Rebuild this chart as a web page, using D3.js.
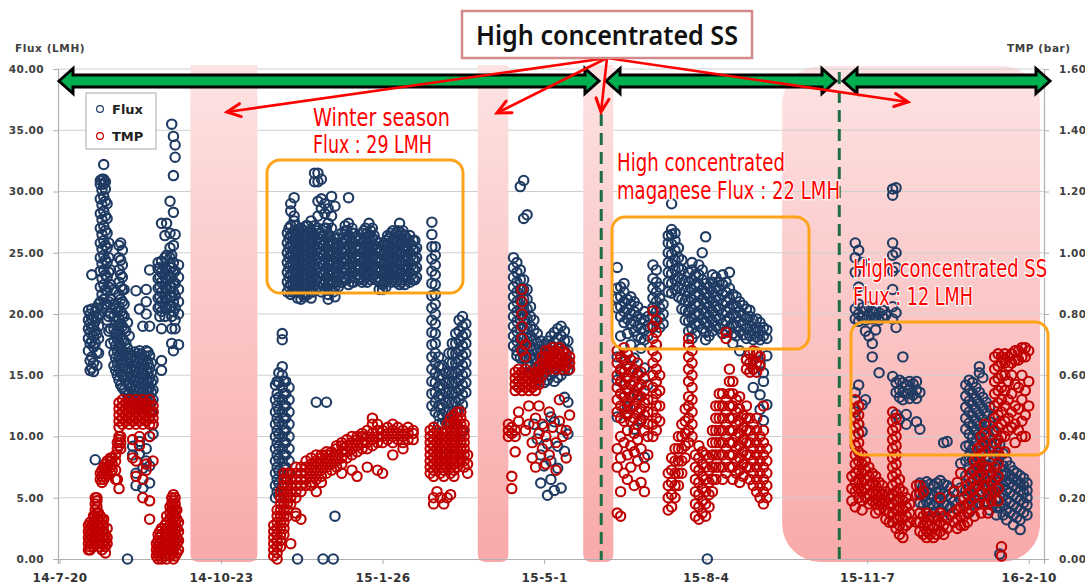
<!DOCTYPE html>
<html>
<head>
<meta charset="utf-8">
<script src="https://cdn.jsdelivr.net/npm/d3@7"></script>
<style>
body { margin: 0; background: #fff; }
svg { display: block; }
</style>
</head>
<body>
<svg width="1085" height="585"></svg>
<script>
// days are counted from 2014-07-20
const startDay = Date.UTC(2014, 6, 20);
const tickDays = [0, 95, 190, 285, 380, 475, 570];
const fluxTicks = [0, 5, 10, 15, 20, 25, 30, 35, 40];
const tmpTicks = [0, 0.2, 0.4, 0.6, 0.8, 1.0, 1.2, 1.4, 1.6];
const shadedDays = [[77, 116.4], [246, 264], [308, 325.7]];
const wideShadeDays = [425, 576.7];
const dashDays = [318.6, 458.6];

// [day, flux values (LMH)...]
const fluxCols = [
  [17,19.5,20.3,18.8,18,17],[18,20,19.2,18.5,17.6,16.2,15.4],[19,20.4,19.6,18.9,17.8,16.5,15.6,23.2],
  [20,19.8,19,18.2,17.3,16,15.3],[21,20.2,19.4,18.6,17.6,8.1],[22,20.5,19.7,18.4,16.9,15.8],[23,20.8,19.9,19,18,16.8],
  [24,21,22.2,23.5,24.6,25.8,27,28.2,29.4,30.6,30.9,20],[25,20.5,21.6,22.9,24.1,25.3,26.5,27.7,28.9,30.1,31],
  [26,21.2,22.4,23.6,24.8,26,27.2,28.4,29.6,30.6,31,32.2],[27,20.8,22,23.2,24.4,25.6,26.8,28,29.2,30.2,30.8],
  [28,19.5,20.8,21.9,23,24.2,25.4,26.6,27.8,29],[29,18.6,19.8,21,22.2,23.4,24.6,25.8],[30,17.6,18.8,20,21.2,22.4,23.6],
  [32,15.8,16.8,17.8,18.8,19.8,20.8,22],[33,15.4,16.4,17.4,18.4,19.4,20.4],[34,15,16,17,18,19,20.2],
  [35,14.6,15.6,16.6,17.6,18.6,19.6,20.6,21.6,22.6,23.6,24.6,25.6],[36,14.2,15.2,16.2,17.2,18.2,19.2,20.2,21.2,22.2,23.2,24.4,25.8],
  [37,14,15,16,17,18,19,20,21,22,23,24,25.2],[38,13.8,14.8,15.8,16.8,17.8,18.8,19.8,20.8,22],[39,13.6,14.6,15.6,16.6,17.6,18.6],
  [40,13.4,14.4,15.4,16.4,17.2,19.3,0],[41,12.8,13.6,14.4,15.2,16,16.8,18.2],[42,12.4,13.2,14,14.8,15.6,16.4],
  [43,12.6,13.4,14.2,15,15.8,16.6,8.5,9.2],[44,12.9,13.7,14.5,15.3,16.1,16.9],[45,12.5,13.3,14.1,14.9,15.7,16.5,21.9,7,6],
  [46,12.8,13.6,14.4,15.2,16,16.8],[47,12.4,13.2,14,14.8,15.6,16.4,17,20.4,8.6,9.6],[48,12.7,13.5,14.3,15.1,15.9,16.7],
  [49,12.3,13.1,13.9,14.7,15.5,16.3,19,5.8,7.4],[50,12.6,13.4,14.2,15,15.8,16.6],[51,12.2,13,13.8,14.6,15.4,16.2,17,22,20,21,8,9],
  [52,12.8,13.6,14.4,15.2,16,16.9],[53,12.4,13.2,14,14.8,15.6,16.6,23.6,19,6.2,7.6,10],[54,12,12.8,13.6,14.4,15.2,16],
  [55,11,12,13,13.8,14.6,10.2],
  [58,20.5,21.3,22.1,22.9,23.7,24.2],[59,19.8,20.6,21.4,22.2,23,23.8],[60,20.2,21,21.8,22.6,23.4,24.3,18.8,16.2,15.4,27.4],
  [62,19.8,20.6,21.4,22.2,23,23.8,24.6,26.4],[63,20.4,21.2,22,22.8,23.6,24.8,27.4],[65,20.6,21.4,22.2,23,23.8,24.6,25.4,26.6,29.2],
  [66,19.8,20.6,21.4,22.2,23,23.8,24.8,35.5,18.8,17.6],[67,20.2,21,21.8,22.6,23.4,24.2,25.6,34.5,31.3,28.3,17],
  [68,19.5,20.5,21.5,22.5,23.5,26.5,33.8,32.8,18.8],[70,20,21,22,23,24,17.5],
  [127,5,6,7,8,9,10,11,12,13,14.2],[128,5.5,6.5,7.5,8.5,9.5,10.5,11.5,12.5,13.5,14.5],
  [129,5.2,6.2,7.2,8.2,9.2,10.2,11.2,12.2,13.2,14.4,15.2],[131,6,7,8,9,10,11,12,13,14,15,15.7,17.9,18.4],
  [132,5.5,6.5,7.5,8.5,9.5,10.5,11.5,12.5,13.5,14.5],[133,6.5,7.5,8.5,9.5,10.5,11.5,12.5,13.5,14.5],[135,7,8,9,10,11,12,13,14],
  [134,21.8,22.6,23.4,24.2,25,25.8,26.6],[135,22.2,23,23.8,24.6,25.4,26.2,27],[136,21.6,22.4,23.2,24,24.8,25.6,26.4,27.2,29,28.4],
  [137,21.8,22.6,23.4,24.2,25,25.8,26.6],[138,22,22.8,23.6,24.4,25.2,26,26.8,27.6,29.5,28],[139,22.4,23.2,24,24.8,25.6,26.4,27.2],
  [140,21.8,22.6,23.4,24.2,25,25.8,26.6,21.3,0],[141,22,22.8,23.6,24.4,25.2,26,26.8],
  [142,22.2,23,23.8,24.6,25.4,26.2,27,21.2],[143,21.6,22.4,23.2,24,24.8,25.6,26.4],[144,22,22.8,23.6,24.4,25.2,26,26.8,21.4],
  [145,22.4,23.2,24,24.8,25.6,26.4,27.2],[146,21.6,22.4,23.2,24,24.8,25.6,26.4,27.2],[147,22,22.8,23.6,24.4,25.2,26,26.8],
  [148,22,22.8,23.6,24.4,25.2,26,26.8,27.6,21.3],[149,21.8,22.6,23.4,24.2,25,25.8,26.6],
  [150,22.4,23.2,24,24.8,25.6,26.4,27.2,30.8,31.5],[151,12.8,22,22.8,23.6,24.4,25.2,26,26.8],
  [152,22.2,23,23.8,24.6,25.4,26.2,27,28,29.2,30.8,31.5],[153,22.6,23.4,24.2,25,25.8,26.6],
  [154,21.8,22.6,23.4,24.2,25,25.8,26.6,28.6,29.4,31],[155,0,22.4,23.2,24,24.8,25.6,26.4],
  [156,22,22.8,23.6,24.4,25.2,26,27,28.2,29],[157,12.8,22.2,23,23.8,24.6,25.4,26.2,27],
  [158,21.6,22.4,23.2,24,24.8,25.6,26.4,27.4,28.6,21.2],[159,22.4,23.2,24,24.8,25.6,26.4],
  [160,22,22.8,23.6,24.4,25.2,26,27,28,29.6],[161,0,21.8,22.6,23.4,24.2,25,25.8],
  [162,21.4,22.2,23,23.8,24.6,25.4,26.2,28.8,3.5],[163,22.6,23.4,24.2,25,25.8],[164,22.2,23,23.8,24.6,25.4,26.2],
  [166,22.6,23.4,24.2,25,25.8,26.6],[167,23,23.8,24.6,25.4,26.2],
  [168,22.8,23.6,24.4,25.2,26,26.8,27.2],[169,22.8,23.6,24.4,25.2,26,26.8],[170,22.4,23.2,24,24.8,25.6,26.4,27.4,29.5],
  [171,23,23.8,24.6,25.4,26.2],[172,22.6,23.4,24.2,25,25.8,26.6,27],[173,22.6,23.4,24.2,25,25.8,26.6],
  [174,23,23.8,24.6,25.4,26.2],[175,23.2,24,24.8,25.6],[176,22.8,23.6,24.4,25.2,26],[177,23,23.8,24.6,25.4,26.2],
  [178,22.6,23.4,24.2,25,25.8,26.6],[179,22.8,23.6,24.4,25.2,26,26.8],
  [180,23,23.8,24.6,25.4,26.2,27],[181,22.6,23.4,24.2,25,25.8,26.6],[182,23.2,24,24.8,25.6,26.4,27.4],
  [183,22.8,23.6,24.4,25.2,26,26.8],[184,23,23.8,24.6,25.4,26.2,27],[185,23.2,24,24.8,25.6,26.4],
  [186,22.8,23.6,24.4,25.2,26],[187,23,23.8,24.6,25.4],[188,22.6,23.4,24.2,25,25.8,22],[189,22.8,23.6,24.4,25.2],
  [190,22.4,23.2,24,24.8,25.6,22],[191,22.6,23.4,24.2,25,25.8],
  [192,22.8,23.6,24.4,25.2,26,22.2],[193,23.2,24,24.8,25.6,26.4],[194,23,23.8,24.6,25.4,26.2],
  [195,22.6,23.4,24.2,25,25.8,26.6],[196,22.8,23.6,24.4,25.2,26,26.8],[197,23,23.8,24.6,25.4,26.2],
  [198,22.6,23.4,24.2,25,25.8,26.6],[199,22.8,23.6,24.4,25.2,26,26.8],[200,22.4,23.2,24,24.8,25.6,26.4,27.4],
  [201,22.6,23.4,24.2,25,25.8,26.6],[202,22.8,23.6,24.4,25.2,26,26.8],[203,22.4,23.2,24,24.8,25.6,26.4],
  [204,23,23.8,24.6,25.4,26.2],[205,22.8,23.6,24.4,25.2,26],[206,22.6,23.4,24.2,25,25.8,26.4],[207,23.2,24,24.8,25.6],
  [208,22.8,23.6,24.4,25.2,26],[209,22.8,23.6,24.4,25.2,26],[210,23,23.8,24.6,25.4],
  [219,27.5,26.5,25.5,24.5,23.5,22.5,21.5,20.5,19.5,18.5,17.5,16.5,15.5,14.5,13.5,12.5],
  [221,25.5,24.8,24,23.2,22.4,21.6,20.8,20,19.2,18.4,17.6,16.8,16,15.2,14.4,13.6,12.8,12],
  [223,16.5,15.7,14.9,14.1,13.3,12.5,11.7,11],[225,15.8,15,14.2,13.4,12.6,11.8,11],[227,15.2,14.4,13.6,12.8,12,11.2],
  [229,16.8,16,15.2,14.4,13.6,12.8,12,11.2],[231,17.6,16.8,16,15.2,14.4,13.6,12.8,12,11.4],
  [233,18.4,17.6,16.8,16,15.2,14.4,13.6,12.8,12,11],[235,19.5,18.6,17.8,17,16.2,15.4,14.6,13.8,13,12.2],
  [237,19.8,19,18.2,17.4,16.6,15.8,15,14.2,13.4,12.6,10.4],[239,19.2,18.4,17.6,16.8,16,15.2,14.4,13.6],
  [267,24.6,23.8,23,22.2,21.4,20.6,19.8,19,18.2,17.4],[269,24.2,23.4,22.6,21.8,21,20.2,19.4,18.6,17.8,17,16.6],
  [271,23.6,22.8,22,21.2,20.4,19.6,18.8,18,17.2,16.4,30.4],[273,22.8,22,21.2,20.4,19.6,18.8,18,17.2,16.4,30.9,27.8],
  [275,22,21.2,20.4,19.6,18.8,18,17.2,16.4,15.8,28.1],[277,20.6,19.8,19,18.2,17.4,16.6,15.8,15.2],
  [279,19.5,18.7,17.9,17.1,16.3,15.5,14.8,11],[281,18.4,17.6,16.8,16,15.2,14.6,9.8],[283,17.8,17,16.2,15.4,14.6,8.5,6.2],
  [285,17.5,16.7,15.9,15.1,14.4,10.8,7.6],[287,17.8,17,16.2,15.4,14.6,9.4,5.2],[289,18.2,17.4,16.6,15.8,15,8,6.5,11.6],
  [291,18.5,17.7,16.9,16.1,15.3,14.5,11.2,5.6],[293,18.8,18,17.2,16.4,15.6,14.8,9.2,7.4],[295,19,18.2,17.4,16.6,15.8,15,10.6,5.8],
  [297,18.6,17.8,17,16.2,15.4,8.8,13.2],[299,17.8,17,16.2,15.4,12.8,10.2],
  [328,20.5,21.3,22.1,16.5,14.6,11.6,23.8],[330,19.8,20.6,21.4,22.2,18.2,15.3],[332,20.2,21,21.8,22.5,19.3,16.2,13.2],
  [334,19.6,20.4,21.2,18.4,12.4],[336,19.2,20,20.8,21.4,17.5,14.2],[338,18.6,19.4,20.2,21,16.4,10.6],
  [340,18.2,19,19.8,20.6,15.2,13.4],[342,18,18.8,19.6,17.2,11.4],[344,17.9,18.7,19.5,20.2,8.3,15.6],[346,18.2,19,19.8,14.2],
  [349,18.9,19.7,20.5,21.3,22.1,22.9,24],[351,19.4,20.2,21,21.8,22.6,23.6],[353,18.9,19.7,20.5,21.3,22.2],[355,19.2,20,20.8],
  [358,21.8,22.6,23.4,24.2,25,25.8,26.4],[360,21.7,22.5,23.3,24.1,24.9,25.7,26.5,26.9,29],[362,22,22.8,23.6,24.4,25.2,26,26.6],
  [364,21.4,22.2,23,23.8,24.6,25.4],[366,20.4,21.2,22,22.8,23.6,24.4],[368,19.5,20.3,21.1,21.9,22.7],
  [370,18.6,19.4,20.2,21,21.8,22.6,23.4],[372,18,18.8,19.6,20.4,21.2,22,22.8,23.6,24.2],[374,18.4,19.2,20,20.8,21.6,22.4,23.2],
  [376,19.2,20,20.8,21.6,22.4,23.2,24],[378,18.8,19.6,20.4,21.2,22,22.8,23.6,25],[380,18.5,19.3,20.1,20.9,21.7,22.5,26.3,17.9],
  [381,0],[382,18.2,19,19.8,20.6,21.4,22.2],[384,18.6,19.4,20.2,21,21.8,22.6,23.2],[386,19,19.8,20.6,21.4,22.2,23],
  [388,18.8,19.6,20.4,21.2,22,22.6],[390,18.4,19.2,20,20.8,21.6,22.4,23.2],[392,18.6,19.4,20.2,21,21.8,22.6],
  [394,18.9,19.7,20.5,21.3,22.1,23.4],[396,18.4,19.2,20,20.8,21.6,17.6],[398,18.2,19,19.8,20.6,21.4],[400,18.6,19.4,20.2,21,17],
  [402,18.3,19.1,19.9,20.7],[404,18,18.8,19.6,20.4,16.3],[406,18.2,19,19.8,20.3],[408,17.9,18.7,19.5,15.5,14],
  [410,18.1,18.9,19.6,16.9],[412,17.9,18.7,19.3,16,13.4,12.2],[414,18.2,18.9,15.2,11.3,14.5],[416,18,18.7,16.6,12.6],
  [468,25.8,24.6,23.4,20.4,19.6,13.6,12],[470,25.2,22.2,20.8,20,19.4,14.2,11],[472,24.2,20.5,19.7,12.6,10.4],[474,20.3,19.5,18.6,13],
  [476,20.6,19.8,18.2],[478,20.2,19.6,17.6,16.5],[480,20.4,19.7,18.7],[482,20.1,19.5,15.2],[484,20.3,19.8],[486,19.9],
  [490,25.8,24.8,23.5,22,20.6,19.6,30.2,29.7,14.9],[492,25,23.8,20.1,18.9,14.4,13.6,11.8,30.3],[494,14.6,13.8,13.2,11.4],
  [496,14.4,13.6,13,16.5],[498,14.2,13.5,11,11.8],[500,14.5,13.8,13.1],[502,14.3,13.4],[504,14.5,13.8,13.1,11.2],
  [506,13.6,10.6,6.2,5.4,4.6],[508,6,5.2,4.4],[510,6.3,5.5,4.7,3.9],[512,6.1,5.3,4.5],[514,6,5.2,4.4,3.8],[516,6.2,5.4,4.6],
  [518,6.4,5.6,4.8,4],[520,6.1,5.3,4.5,9.5],[522,6,5.2,4.4,9.6],[524,5.8,5,4.2,3.6],[526,5.5,4.7],[530,7.8,5.8,4.8],
  [533,14.2,13.3,12.4,11.5,10.6,9.2,8,6.8,5.6,4.4],[535,14.6,13.8,12.9,12,11.1,10.2,9.3,8.4,7.5,6.6,5.8,3.8],
  [537,14.4,13.5,12.6,11.7,10.8,9.9,9,8.1,7.2,6.3,5.4,4.5],[539,14,13.1,12.2,11.3,10.4,9.5,8.6,7.7,6.8,5.9,5],
  [541,15.7,15.2,13.6,12.7,11.8,10.9,10,9.1,8.2,7.3,6.4,5.5,4.6],[543,14.8,13.2,12.3,11.4,10.5,9.6,8.7,7.8,6.9,6],
  [545,12.8,11.9,11,10.1,9.2,8.3,7.4,6.5,5.6,4.7],[547,12.4,11.2,10,8.8,7.6,6.4,5.2,4],[549,11.6,10.4,9.2,8,6.8,5.6,4.4],
  [551,10.4,9.4,8.4,7.4,6.6,5.8,5,4.2,3.6],[553,9.4,8.4,7.4,6.6,5.8,5,4.2,0.4],[555,8.6,7.6,6.8,6,5.2,4.4,3.6],
  [557,8,7,6.4,5.6,4.8,4,3.2],[559,7.6,6.8,6.2,5.4,4.6,3.8],[561,7.2,6.6,6,5.2,4.4,3.6,2.8],[563,7,6.4,5.8,5,4.2,3.4],
  [565,6.8,6.2,5.6,4.8,4,3.2,2.4],[567,6.6,6,5.4,4.6,3.8],[569,6.2,5.6,5,4.4,3.6]
];

// [day, TMP values (bar)...]
const tmpCols = [
  [17,0.03,0.05,0.07,0.09,0.11],[18,0.04,0.06,0.08,0.1,0.12,0.03],[19,0.05,0.07,0.09,0.11],[20,0.04,0.06,0.08,0.1,0.12,0.14],
  [21,0.06,0.08,0.1,0.12,0.14,0.16,0.18,0.2],[22,0.07,0.09,0.11,0.13,0.15,0.17,0.19,0.2],[23,0.05,0.07,0.09,0.11,0.13,0.15],
  [24,0.04,0.06,0.08,0.1,0.12,0.14,0.26,0.28],[25,0.03,0.05,0.07,0.09,0.11,0.13,0.25,0.27,0.29],[26,0.05,0.07,0.09,0.11,0.13,0.26,0.28,0.3],
  [27,0.02,0.04,0.06,0.08,0.27,0.29,0.31],[28,0.05,0.07,0.1,0.28,0.3,0.32],[30,0.28,0.3,0.32,0.33],[31,0.29,0.31,0.33],
  [33,0.26,0.29,0.32,0.34],[34,0.36,0.38,0.26],[35,0.37,0.39,0.4,0.23,0.43,0.45,0.47,0.49,0.51],[36,0.36,0.38,0.4],
  [37,0.44,0.46,0.48,0.5,0.52],[39,0.45,0.47,0.49,0.51],[41,0.44,0.46,0.48,0.5,0.52],[43,0.45,0.47,0.49,0.51,0.39,0.33],
  [45,0.44,0.46,0.48,0.5,0.52,0.32,0.27],[47,0.45,0.47,0.49,0.51,0.4,0.37],[49,0.44,0.46,0.48,0.5,0.52,0.2,0.26],
  [51,0.45,0.47,0.49,0.51,0.31,0.29],[53,0.44,0.46,0.48,0.5,0.52,0.4,0.13,0.19],[55,0.44,0.46,0.48,0.5,0.32],
  [57,0.01,0.03,0.05],[58,0,0.02,0.04,0.06,0.08],[59,0.01,0.03,0.05,0.07,0.09],[60,0,0.02,0.04,0.06,0.08,0.1],
  [62,0.01,0.03,0.05,0.07,0.09,0.11],[63,0,0.02,0.04,0.06,0.08,0.1,0.12,0.14],[65,0.01,0.03,0.05,0.07,0.09,0.11,0.13,0.15,0.17],
  [66,0.02,0.04,0.06,0.08,0.1,0.12,0.14,0.16,0.18,0.2],[67,0,0.03,0.05,0.07,0.09,0.11,0.13,0.15,0.17,0.19,0.21],
  [68,0.01,0.04,0.06,0.08,0.1,0.12,0.14,0.16,0.18,0.2],[69,0.02,0.05,0.07,0.1,0.13,0.16],[70,0.03,0.06,0.09,0.12],
  [126,0.01,0.03,0.05,0.07,0.09,0.11],[128,0,0.02,0.04,0.06,0.08,0.1,0.12,0.14,0.16],[130,0.04,0.06,0.08,0.1,0.12,0.14,0.16,0.18,0.2,0.22],
  [132,0.08,0.1,0.12,0.14,0.16,0.18,0.2,0.22,0.24,0.26,0.28],[134,0.14,0.16,0.18,0.2,0.22,0.24,0.26,0.28],[136,0.18,0.2,0.22,0.24,0.26,0.28,0.05],
  [139,0.2,0.22,0.24,0.26,0.28,0.3,0.15,0.14],[142,0.22,0.24,0.26,0.28,0.3,0.13],[145,0.24,0.26,0.28,0.3,0.32],
  [148,0.25,0.27,0.29,0.31,0.33,0.24],[151,0.26,0.28,0.3,0.32,0.34,0.22],[154,0.27,0.29,0.31,0.33,0.34,0.25],[157,0.28,0.3,0.32,0.34,0.35],
  [160,0.29,0.31,0.33,0.35],[163,0.3,0.32,0.34,0.36,0.37],[166,0.31,0.33,0.35,0.37,0.38,0.28],[169,0.33,0.35,0.37,0.39],
  [172,0.34,0.36,0.38,0.4,0.29],[175,0.35,0.37,0.39,0.4,0.27],[178,0.36,0.38,0.4,0.41],[181,0.36,0.38,0.4,0.42,0.3],
  [184,0.37,0.39,0.41,0.44,0.46],[187,0.38,0.4,0.42,0.44,0.29],[190,0.38,0.4,0.42,0.28],[193,0.39,0.41,0.43],
  [196,0.38,0.4,0.42,0.44,0.34],[199,0.39,0.41,0.43],[202,0.38,0.4,0.42,0.36],[205,0.39,0.41,0.43],[208,0.39,0.41,0.42],
  [218,0.28,0.3,0.32,0.34,0.36,0.38,0.4,0.42],[220,0.27,0.29,0.31,0.33,0.35,0.37,0.39,0.41,0.43,0.2,0.18],
  [222,0.3,0.32,0.34,0.36,0.38,0.4,0.42,0.22],[224,0.28,0.3,0.32,0.34,0.36,0.38,0.4,0.2],[226,0.27,0.29,0.31,0.33,0.35,0.37,0.39,0.41,0.18],
  [228,0.3,0.32,0.34,0.36,0.38,0.4,0.42,0.44,0.2],[230,0.28,0.3,0.32,0.34,0.36,0.38,0.4,0.42,0.44,0.46,0.21],
  [232,0.27,0.29,0.31,0.33,0.35,0.37,0.39,0.41,0.43,0.45,0.47],[234,0.3,0.32,0.34,0.36,0.38,0.4,0.42,0.44,0.46,0.48],
  [236,0.32,0.34,0.36,0.38,0.4,0.42,0.44,0.46,0.48],[238,0.3,0.32,0.34,0.36,0.38,0.4,0.42,0.44],[240,0.28,0.31,0.34],
  [264,0.4,0.42,0.44],[266,0.41,0.43,0.27,0.23],[268,0.55,0.57,0.59,0.61,0.4,0.42,0.35],[270,0.56,0.58,0.6,0.62,0.48,0.45],
  [272,0.55,0.57,0.59,0.61,0.68,0.72,0.76,0.8,0.84,0.88],[274,0.56,0.58,0.6,0.62,0.66,0.7,0.42],[276,0.55,0.57,0.59,0.61,0.5,0.44],
  [278,0.56,0.58,0.6,0.38,0.33],[280,0.55,0.57,0.59,0.61,0.46,0.3],[282,0.57,0.59,0.61,0.63,0.5,0.41],[284,0.6,0.62,0.64,0.66,0.44,0.36],
  [286,0.62,0.64,0.66,0.68,0.4,0.31],[288,0.62,0.64,0.66,0.68,0.48,0.34],[290,0.63,0.65,0.67,0.69,0.43],[292,0.62,0.64,0.66,0.68,0.38,0.29],
  [294,0.63,0.65,0.67,0.69,0.52,0.45],[296,0.62,0.64,0.66,0.68,0.4],[298,0.63,0.65,0.67,0.33,0.42],[300,0.62,0.64,0.66,0.47],
  [328,0.48,0.52,0.56,0.6,0.64,0.68,0.36,0.3,0.15],[330,0.46,0.5,0.54,0.58,0.62,0.66,0.4,0.33,0.22,0.14],
  [332,0.45,0.49,0.53,0.57,0.61,0.65,0.69,0.38,0.28],[334,0.47,0.51,0.55,0.59,0.63,0.67,0.42,0.34,0.26],
  [336,0.45,0.49,0.53,0.57,0.61,0.65,0.37,0.3],[338,0.46,0.5,0.54,0.58,0.62,0.41,0.35,0.24],[340,0.44,0.48,0.52,0.56,0.6,0.64,0.39,0.32],
  [342,0.45,0.49,0.53,0.57,0.61,0.36,0.25],[344,0.47,0.51,0.55,0.59,0.42,0.3,0.22],[346,0.44,0.48,0.52,0.4,0.34],
  [349,0.4,0.44,0.48,0.52,0.56,0.6,0.64,0.68,0.72,0.76,0.81],[351,0.42,0.46,0.5,0.54,0.58,0.62,0.66,0.7,0.74,0.78],[353,0.45,0.5,0.55,0.6],
  [358,0.16,0.2,0.24,0.28],[360,0.17,0.21,0.25,0.29,0.33],[362,0.2,0.24,0.28,0.32,0.36],[364,0.24,0.28,0.32,0.36,0.4],
  [366,0.28,0.32,0.36,0.4,0.44],[368,0.33,0.37,0.41,0.45,0.49],[370,0.38,0.42,0.46,0.5,0.53,0.58,0.62,0.66,0.7,0.72],
  [372,0.4,0.44,0.48,0.52,0.56,0.6,0.64,0.68],[374,0.14,0.18,0.22,0.26,0.3,0.34],[376,0.13,0.17,0.21,0.25,0.29,0.33,0.37],
  [378,0.15,0.19,0.23,0.27,0.31,0.35],[380,0.14,0.18,0.22,0.26,0.3,0.34],[382,0.17,0.21,0.25,0.29,0.33],
  [384,0.22,0.26,0.3,0.34,0.38,0.42],[386,0.26,0.3,0.34,0.38,0.42,0.46,0.5],[388,0.3,0.34,0.38,0.42,0.46,0.5,0.54],
  [390,0.26,0.3,0.34,0.38,0.42,0.46,0.5,0.54],[392,0.28,0.32,0.36,0.4,0.44,0.48,0.52,0.72,0.74],
  [394,0.3,0.34,0.38,0.42,0.46,0.5,0.54,0.58,0.62],[396,0.26,0.3,0.34,0.38,0.42,0.46,0.5,0.54,0.58],
  [398,0.28,0.32,0.36,0.4,0.44,0.48,0.52],[400,0.25,0.29,0.33,0.37,0.41,0.45,0.49,0.53],[402,0.27,0.31,0.35,0.39,0.43,0.47],
  [404,0.3,0.34,0.38,0.42,0.46,0.5,0.62,0.65],[406,0.26,0.3,0.34,0.38,0.42,0.46,0.61,0.64,0.67],
  [408,0.24,0.28,0.32,0.36,0.4,0.44,0.62,0.65,0.68],[410,0.22,0.26,0.3,0.34,0.38,0.42,0.46,0.61,0.64,0.67],
  [412,0.2,0.24,0.28,0.32,0.36,0.4,0.63,0.66],[414,0.18,0.22,0.26,0.3,0.34,0.38,0.42,0.5],[416,0.2,0.24,0.28,0.32,0.36],
  [466,0.27,0.23,0.19],[468,0.52,0.49,0.46,0.43,0.4,0.37,0.34,0.31,0.28,0.25,0.22,0.17],[470,0.5,0.47,0.44,0.41,0.38,0.35,0.32,0.29,0.26,0.23,0.2],
  [472,0.34,0.31,0.28,0.25,0.22,0.19,0.16],[474,0.32,0.29,0.26,0.23,0.2],[476,0.3,0.27,0.24,0.21,0.18],[478,0.28,0.25,0.22,0.19],
  [480,0.27,0.24,0.21,0.18,0.15],[482,0.25,0.22,0.19,0.16],[484,0.24,0.21,0.18],[486,0.22,0.19,0.16,0.13],[488,0.21,0.18,0.15,0.12],
  [490,0.48,0.45,0.42,0.39,0.36,0.33,0.3,0.27,0.24,0.21,0.18,0.15,0.12],[492,0.46,0.43,0.4,0.37,0.34,0.31,0.28,0.25,0.22,0.19,0.16,0.13,0.1],
  [494,0.26,0.23,0.2,0.17,0.14,0.11,0.08],[496,0.22,0.19,0.16,0.13,0.1,0.07],[498,0.2,0.17,0.14,0.11],[500,0.18,0.15,0.12],
  [504,0.24,0.21,0.12],[506,0.24,0.21,0.15,0.12,0.09],[508,0.14,0.11,0.08,0.22],[510,0.15,0.12,0.09,0.07],[512,0.14,0.11,0.08],
  [514,0.13,0.1,0.07],[516,0.14,0.11,0.08],[518,0.15,0.12,0.09,0.2],[520,0.14,0.11,0.08],[522,0.13,0.1],[526,0.15,0.12,0.22],
  [528,0.16,0.13,0.1,0.25],[530,0.17,0.14,0.11,0.28],[532,0.2,0.17,0.14,0.11],[534,0.24,0.21,0.18,0.15,0.12],
  [536,0.28,0.25,0.22,0.19,0.16],[538,0.32,0.29,0.26,0.23,0.2,0.14],[540,0.36,0.33,0.3,0.27,0.24,0.18],
  [542,0.4,0.37,0.34,0.31,0.28,0.22,0.15],[544,0.44,0.41,0.38,0.35,0.3,0.24,0.18],[546,0.3,0.27,0.24,0.21,0.18,0.15],
  [548,0.28,0.25,0.22,0.19],[550,0.66,0.62,0.58,0.54,0.5,0.46,0.42,0.38,0.34,0.3,0.26,0.22],
  [552,0.67,0.63,0.59,0.55,0.51,0.47,0.43,0.39,0.35,0.31,0.27,0.23,0.19],[554,0.66,0.64,0.6,0.56,0.52,0.48,0.44,0.4,0.04,0.01],
  [556,0.67,0.64,0.6,0.55,0.5,0.45,0.4,0.35],[558,0.66,0.63,0.58,0.52,0.46,0.42],[560,0.67,0.64,0.6,0.54,0.48,0.43],
  [562,0.68,0.65,0.57,0.5,0.44,0.38],[564,0.68,0.65,0.56,0.49,0.42],[566,0.69,0.66,0.6,0.52,0.45,0.4],[568,0.69,0.66,0.55,0.47,0.4],
  [570,0.68,0.58,0.5]
];

const svg = d3.select("svg");
const dayDate = d => new Date(startDay + d * 864e5);

const x = d3.scaleUtc().domain([dayDate(-1), dayDate(579)]).range([57.8, 1044]);
const y = d3.scaleLinear().domain([0, 40]).range([559, 69]);
const y2 = d3.scaleLinear().domain([0, 1.6]).range([559, 69]);

const defs = svg.append("defs");
const grad = defs.append("linearGradient").attr("id", "pink").attr("x1", 0).attr("y1", 0).attr("x2", 0).attr("y2", 1);
grad.append("stop").attr("offset", "0%").attr("stop-color", "#fde3e3");
grad.append("stop").attr("offset", "100%").attr("stop-color", "#f9a9a9");

// wide shaded period (under grid)
svg.append("rect")
  .attr("x", x(dayDate(wideShadeDays[0]))).attr("y", 66)
  .attr("width", x(dayDate(wideShadeDays[1])) - x(dayDate(wideShadeDays[0])))
  .attr("height", 496).attr("rx", 38)
  .attr("fill", "url(#pink)");

// grid
svg.append("g").selectAll("line").data(fluxTicks.filter(t => t > 0)).join("line")
  .attr("x1", 58).attr("x2", 1044)
  .attr("y1", d => y(d)).attr("y2", d => y(d))
  .attr("stroke", "#cfcfcf").attr("stroke-width", 1.2);

// narrow shaded periods
function bandPath(x0, x1, y0, y1, r) {
  return `M${x0},${y0}H${x1}V${y1 - r}Q${x1},${y1} ${x1 - r},${y1}H${x0 + r}Q${x0},${y1} ${x0},${y1 - r}Z`;
}
svg.append("g").selectAll("path").data(shadedDays).join("path")
  .attr("d", d => bandPath(x(dayDate(d[0])), x(dayDate(d[1])), 65, 562, 8))
  .attr("fill", "url(#pink)");

// axes
const fmt = d3.format(".2f");
const axisStyle = g => {
  g.select(".domain").attr("stroke", "#b0b0b0").attr("stroke-width", 1.2);
  g.selectAll(".tick line").attr("stroke", "#b0b0b0");
  g.selectAll("text").attr("fill", "#404040").attr("font-family", "DejaVu Sans").attr("font-weight", "bold");
};
svg.append("g").attr("transform", "translate(58,0)")
  .call(d3.axisLeft(y).tickValues(fluxTicks).tickFormat(fmt).tickSize(5).tickPadding(9))
  .call(axisStyle)
  .call(g => g.selectAll("text").attr("font-size", 10.5).attr("letter-spacing", 0.4));
svg.append("g").attr("transform", "translate(1044,0)")
  .call(d3.axisRight(y2).tickValues(tmpTicks).tickFormat(fmt).tickSize(5).tickPadding(10))
  .call(axisStyle)
  .call(g => g.selectAll("text").attr("font-size", 10.5).attr("letter-spacing", 0.4));
svg.append("g").attr("transform", "translate(0,559)")
  .call(d3.axisBottom(x).tickValues(tickDays.map(dayDate)).tickFormat(d3.utcFormat("%y-%-m-%-d")).tickSize(5).tickPadding(9))
  .call(axisStyle)
  .call(g => g.selectAll("text").attr("font-size", 12).attr("letter-spacing", 0.5).attr("fill", "#333"));

svg.append("text").attr("x", 15).attr("y", 52).text("Flux (LMH)")
  .attr("font-family", "DejaVu Sans").attr("font-weight", "bold").attr("font-size", 10.5)
  .attr("letter-spacing", 0.6).attr("fill", "#404040");
svg.append("text").attr("x", 1007).attr("y", 52).text("TMP (bar)")
  .attr("font-family", "DejaVu Sans").attr("font-weight", "bold").attr("font-size", 10.5)
  .attr("letter-spacing", 0.6).attr("fill", "#404040");

// points
const fluxPts = fluxCols.flatMap(([d, ...vs]) => vs.map(v => ({ d, v })));
const tmpPts = tmpCols.flatMap(([d, ...vs]) => vs.map(v => ({ d, v })));

svg.append("g").selectAll("circle").data(fluxPts).join("circle")
  .attr("cx", p => x(dayDate(p.d))).attr("cy", p => y(p.v)).attr("r", 4.7)
  .attr("fill", "none").attr("stroke", "#1f3b63").attr("stroke-width", 2.1);
svg.append("g").selectAll("circle").data(tmpPts).join("circle")
  .attr("cx", p => x(dayDate(p.d))).attr("cy", p => y2(p.v)).attr("r", 4.7)
  .attr("fill", "none").attr("stroke", "#c00000").attr("stroke-width", 2.1);

// dashed period markers
svg.append("g").selectAll("line").data(dashDays).join("line")
  .attr("x1", d => x(dayDate(d))).attr("x2", d => x(dayDate(d)))
  .attr("y1", (d, i) => i === 0 ? 114 : 72).attr("y2", 560)
  .attr("stroke", "#1f6e43").attr("stroke-width", 3).attr("stroke-dasharray", "12,7");

// green double arrows
function dblArrow(x0, x1, yc) {
  const sh = 6, hh = 12.5, hl = 14;
  return `M${x0},${yc}L${x0 + hl},${yc - hh}L${x0 + hl},${yc - sh}L${x1 - hl},${yc - sh}L${x1 - hl},${yc - hh}L${x1},${yc}` +
         `L${x1 - hl},${yc + hh}L${x1 - hl},${yc + sh}L${x0 + hl},${yc + sh}L${x0 + hl},${yc + hh}Z`;
}
svg.append("g").selectAll("path").data([[59, 599], [606, 836], [843, 1050]]).join("path")
  .attr("d", d => dblArrow(d[0], d[1], 81))
  .attr("fill", "#00b050").attr("stroke", "#000").attr("stroke-width", 3).attr("stroke-linejoin", "miter");

// orange boxes
svg.append("g").selectAll("rect").data([[267, 160, 196, 133], [612, 217, 197, 132], [851, 322, 197, 133]]).join("rect")
  .attr("x", d => d[0]).attr("y", d => d[1]).attr("width", d => d[2]).attr("height", d => d[3])
  .attr("rx", 13).attr("fill", "none").attr("stroke", "#ffa31a").attr("stroke-width", 3);

// red annotation texts
const notes = [
  ["Winter season", 313, 126, 137], ["Flux : 29 LMH", 313, 153, 119],
  ["High concentrated", 617, 171, 168], ["maganese  Flux : 22 LMH", 617, 199, 223],
  ["High concentrated  SS", 853, 277, 194], ["Flux : 12 LMH", 853, 305, 120]
];
svg.append("g").selectAll("text").data(notes).join("text")
  .attr("x", d => d[1]).attr("y", d => d[2]).attr("textLength", d => d[3]).attr("lengthAdjust", "spacingAndGlyphs")
  .text(d => d[0])
  .attr("font-family", "Liberation Sans Narrow, DejaVu Sans Condensed, sans-serif").attr("font-size", 25)
  .attr("fill", "#ff0000").attr("stroke", "#fff").attr("stroke-width", 2.5).attr("paint-order", "stroke");

// red arrows from the title box
const origin = [607, 58];
const targets = [[227, 112], [497, 113], [601, 112], [908, 102]];
const arrows = svg.append("g").attr("stroke", "#ff0000").attr("stroke-width", 2.6).attr("fill", "none").attr("stroke-linecap", "round");
targets.forEach(t => {
  arrows.append("line").attr("x1", origin[0]).attr("y1", origin[1]).attr("x2", t[0]).attr("y2", t[1]);
  const a = Math.atan2(origin[1] - t[1], origin[0] - t[0]);
  const L = 15, s = 0.45;
  arrows.append("path").attr("d",
    `M${t[0] + L * Math.cos(a + s)},${t[1] + L * Math.sin(a + s)}L${t[0]},${t[1]}L${t[0] + L * Math.cos(a - s)},${t[1] + L * Math.sin(a - s)}`)
    .attr("stroke-width", 3).attr("stroke-linejoin", "miter");
});

// title box
svg.append("rect").attr("x", 462).attr("y", 11).attr("width", 290).attr("height", 47)
  .attr("fill", "#fff").attr("stroke", "#d4898b").attr("stroke-width", 2.5);
svg.append("text").attr("x", 476).attr("y", 45).attr("textLength", 262).attr("lengthAdjust", "spacingAndGlyphs")
  .text("High concentrated SS")
  .attr("font-family", "Noto Sans, Open Sans, sans-serif").attr("font-weight", 600).attr("font-size", 27).attr("fill", "#111");

// legend
const lg = svg.append("g");
lg.append("rect").attr("x", 86).attr("y", 93).attr("width", 70).attr("height", 56)
  .attr("fill", "#fff").attr("stroke", "#a8a8a8");
[["Flux", "#1f3b63", 109], ["TMP", "#c00000", 136]].forEach(([name, c, yy]) => {
  lg.append("circle").attr("cx", 100).attr("cy", yy).attr("r", 3.4).attr("fill", "none").attr("stroke", c).attr("stroke-width", 1.2);
  lg.append("text").attr("x", 112).attr("y", yy + 5).text(name)
    .attr("font-family", "DejaVu Sans").attr("font-weight", "bold").attr("font-size", 13).attr("fill", "#222");
});
</script>
</body>
</html>
